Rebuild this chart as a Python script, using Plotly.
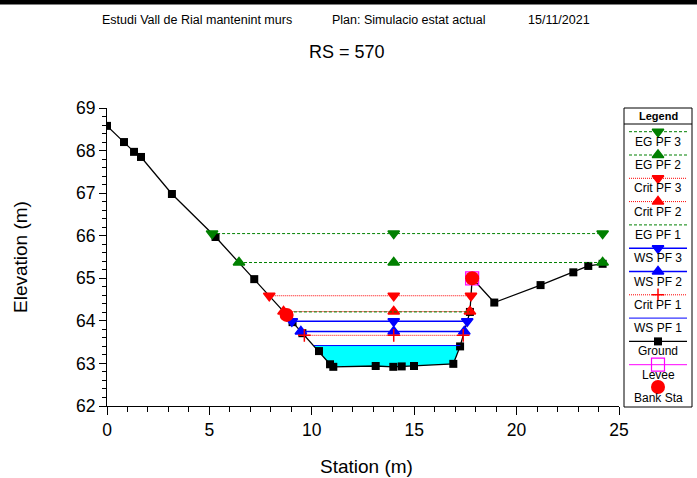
import numpy as np
import plotly.graph_objects as go

# ---- cross-section data -------------------------------------------------
ground_sta = [0.0, 0.83, 1.32, 1.66, 3.17, 5.3, 7.19, 8.77, 9.06, 9.54, 10.35,
              10.89, 11.05, 13.12, 13.98, 14.39, 14.99, 16.91, 17.24, 17.72,
              17.83, 18.91, 21.17, 22.77, 23.5, 24.2]
ground_elev = [68.58, 68.2, 67.97, 67.85, 66.98, 65.97, 64.98, 64.14, 63.97,
               63.71, 63.29, 62.98, 62.92, 62.94, 62.92, 62.93, 62.94, 62.99,
               63.40, 64.21, 65.0, 64.43, 64.84, 65.14, 65.29, 65.34]

bank_sta = [8.77, 17.83]
bank_elev = [64.14, 65.0]
levee_sta = [17.83]
levee_elev = [65.0]

profile_names = ["EG PF 3", "EG PF 2", "Crit PF 3", "Crit PF 2", "EG PF 1",
                 "WS PF 3", "WS PF 2", "Crit PF 1", "WS PF 1"]
profile_elev = [66.05, 65.37, 64.59, 64.22, 64.21, 63.99, 63.75, 63.66, 63.42]
channel_mid = 14.0

x_ticks = [0, 5, 10, 15, 20, 25]
y_ticks = [62, 63, 64, 65, 66, 67, 68, 69]

legend_rows = ["EG PF 3", "EG PF 2", "Crit PF 3", "Crit PF 2", "EG PF 1",
               "WS PF 3", "WS PF 2", "Crit PF 1", "WS PF 1", "Ground", "Levee",
               "Bank Sta"]

# ---- styles ---------------------------------------------------------------
GREEN = "#008000"
RED = "#ff0000"
BLUE = "#0000ff"
MAGENTA = "#ff00ff"
FONT = "Arial, 'Liberation Sans', sans-serif"
EG_DASH = "3px,2px"
CRIT_DASH = "1px,1px"

styles = {
    "EG PF 3": dict(color=GREEN, dash=EG_DASH, width=1, symbol="triangle-down", msize=10),
    "EG PF 2": dict(color=GREEN, dash=EG_DASH, width=1, symbol="triangle-up", msize=10),
    "Crit PF 3": dict(color=RED, dash=CRIT_DASH, width=1, symbol="triangle-down", msize=10),
    "Crit PF 2": dict(color=RED, dash=CRIT_DASH, width=1, symbol="triangle-up", msize=10),
    "EG PF 1": dict(color=GREEN, dash=EG_DASH, width=1, symbol=None, msize=0),
    "WS PF 3": dict(color=BLUE, dash="solid", width=1.5, symbol="triangle-down", msize=10),
    "WS PF 2": dict(color=BLUE, dash="solid", width=1.5, symbol="triangle-up", msize=10),
    "Crit PF 1": dict(color=RED, dash=CRIT_DASH, width=1, symbol="cross-thin", msize=9),
    "WS PF 1": dict(color=BLUE, dash="solid", width=1, symbol=None, msize=0),
}

gs = np.array(ground_sta)
ge = np.array(ground_elev)


def water_limits(elev):
    """Stations where a level meets the ground either side of the channel."""
    i = int(np.searchsorted(gs, channel_mid))
    left = gs[0]
    for k in range(i - 1, 0, -1):
        if ge[k - 1] >= elev > ge[k]:
            left = gs[k - 1] + (gs[k] - gs[k - 1]) * (ge[k - 1] - elev) / (ge[k - 1] - ge[k])
            break
    right = gs[-1]
    for k in range(i, len(gs)):
        if ge[k] >= elev > ge[k - 1]:
            right = gs[k - 1] + (gs[k] - gs[k - 1]) * (elev - ge[k - 1]) / (ge[k] - ge[k - 1])
            break
    return left, right


fig = go.Figure()

# water body under the lowest water surface
ws1 = profile_elev[profile_names.index("WS PF 1")]
l1, r1 = water_limits(ws1)
inside = (gs > l1) & (gs < r1)
fill_x = [l1] + list(gs[inside]) + [r1, l1]
fill_y = [ws1] + list(ge[inside]) + [ws1, ws1]
fig.add_trace(go.Scatter(x=fill_x, y=fill_y, mode="lines", fill="toself",
                         fillcolor="#00ffff", line=dict(width=0),
                         hoverinfo="skip", showlegend=False))

# ground
fig.add_trace(go.Scatter(x=ground_sta, y=ground_elev, mode="lines+markers",
                         line=dict(color="black", width=1.3),
                         marker=dict(symbol="square", size=8, color="black"),
                         showlegend=False))

# water surface, energy grade and critical lines
for name, elev in zip(profile_names, profile_elev):
    st = styles[name]
    left, right = water_limits(elev)
    xs = [left, channel_mid, right]
    ys = [elev, elev, elev]
    line = dict(color=st["color"], dash=st["dash"], width=st["width"])
    if st["symbol"]:
        fig.add_trace(go.Scatter(x=xs, y=ys, mode="lines+markers", line=line,
                                 marker=dict(symbol=st["symbol"], size=st["msize"],
                                             color=st["color"],
                                             line=dict(color=st["color"], width=1.5)),
                                 showlegend=False, cliponaxis=False))
    else:
        fig.add_trace(go.Scatter(x=xs, y=ys, mode="lines", line=line,
                                 showlegend=False))

# levee and bank stations
fig.add_trace(go.Scatter(x=levee_sta, y=levee_elev, mode="markers",
                         marker=dict(symbol="square-open", size=13, color=MAGENTA,
                                     line=dict(width=1.2)),
                         showlegend=False))
fig.add_trace(go.Scatter(x=bank_sta, y=bank_elev, mode="markers",
                         marker=dict(symbol="circle", size=14, color=RED),
                         showlegend=False, cliponaxis=False))

# ---- page geometry: paper spans the whole page ---------------------------
W, H = 697, 478
PLOT_L, PLOT_R, PLOT_T, PLOT_B = 107, 619, 108, 406
LEG_L, LEG_R, LEG_T, LEG_B = 624, 692, 108, 407
BAND_H = 4


def px(x):
    return x / W


def py(y):
    return (H - y) / H


# ---- legend panel (drawn in its own pixel-like axes) ---------------------
row0, row_step = 131.7, 23.3
sample_x0, sample_x1, sample_xc = 629, 687, 658

annotations = []
for i, name in enumerate(legend_rows):
    yl = row0 + i * row_step
    common = dict(xaxis="x2", yaxis="y2", showlegend=False, hoverinfo="skip",
                  cliponaxis=False)
    if name in styles:
        st = styles[name]
        fig.add_trace(go.Scatter(x=[sample_x0, sample_x1], y=[yl, yl], mode="lines",
                                 line=dict(color=st["color"], dash=st["dash"],
                                           width=st["width"]), **common))
        if st["symbol"]:
            fig.add_trace(go.Scatter(x=[sample_xc], y=[yl], mode="markers",
                                     marker=dict(symbol=st["symbol"], size=st["msize"],
                                                 color=st["color"],
                                                 line=dict(color=st["color"], width=1.5)),
                                     **common))
    elif name == "Ground":
        fig.add_trace(go.Scatter(x=[sample_x0, sample_x1], y=[yl, yl], mode="lines",
                                 line=dict(color="black", width=1.3), **common))
        fig.add_trace(go.Scatter(x=[sample_xc], y=[yl], mode="markers",
                                 marker=dict(symbol="square", size=8, color="black"),
                                 **common))
    elif name == "Levee":
        fig.add_trace(go.Scatter(x=[sample_x0, sample_x1], y=[yl, yl], mode="lines",
                                 line=dict(color=MAGENTA, width=1), **common))
        fig.add_trace(go.Scatter(x=[sample_xc], y=[yl], mode="markers",
                                 marker=dict(symbol="square-open", size=13, color=MAGENTA,
                                             line=dict(width=1.2)), **common))
    else:
        fig.add_trace(go.Scatter(x=[sample_xc], y=[yl - 1], mode="markers",
                                 marker=dict(symbol="circle", size=14, color=RED),
                                 **common))
    annotations.append(dict(x=sample_xc, y=yl + 10, xref="x2", yref="y2", text=name,
                            showarrow=False,
                            font=dict(family=FONT, size=12, color="black"),
                            xanchor="center", yanchor="middle"))

annotations.append(dict(x=sample_xc, y=116, xref="x2", yref="y2", text="<b>Legend</b>",
                        showarrow=False, font=dict(family=FONT, size=11, color="black"),
                        xanchor="center", yanchor="middle"))

head_font = dict(family=FONT, size=12.5, color="black")
title_font = dict(family=FONT, size=19, color="black")
annotations += [
    dict(x=px(100), y=py(20), xref="paper", yref="paper", xanchor="left", yanchor="middle",
         text="Estudi Vall de Rial mantenint murs", showarrow=False, font=head_font),
    dict(x=px(330), y=py(20), xref="paper", yref="paper", xanchor="left", yanchor="middle",
         text="Plan: Simulacio estat actual", showarrow=False, font=head_font),
    dict(x=px(526), y=py(20), xref="paper", yref="paper", xanchor="left", yanchor="middle",
         text="15/11/2021", showarrow=False, font=head_font),
    dict(x=px(347), y=py(52), xref="paper", yref="paper", xanchor="center", yanchor="middle",
         text="RS = 570", showarrow=False, font=dict(family=FONT, size=18, color="black")),
    dict(x=px(20), y=py(257), xref="paper", yref="paper", xanchor="center", yanchor="middle",
         text="Elevation (m)", textangle=-90, showarrow=False, font=title_font),
    dict(x=px(366), y=py(466), xref="paper", yref="paper", xanchor="center",
         yanchor="middle", text="Station (m)", showarrow=False, font=title_font),
]

shapes = [
    # black band along the top of the page
    dict(type="rect", xref="paper", yref="paper", x0=0, x1=1,
         y0=py(BAND_H), y1=1, fillcolor="black",
         line=dict(color="black", width=1), layer="above"),
    # legend frame and header divider
    dict(type="rect", xref="paper", yref="paper", x0=px(LEG_L), x1=px(LEG_R),
         y0=py(LEG_B), y1=py(LEG_T), line=dict(color="black", width=1),
         fillcolor="rgba(0,0,0,0)"),
    dict(type="line", xref="paper", yref="paper", x0=px(LEG_L), x1=px(LEG_R),
         y0=py(124), y1=py(124), line=dict(color="black", width=1)),
]

axis_font = dict(family=FONT, size=17.5, color="black")
fig.update_layout(
    template="none",
    width=W, height=H,
    margin=dict(l=0, r=0, t=0, b=0, autoexpand=False),
    paper_bgcolor="white", plot_bgcolor="white",
    showlegend=False,
    xaxis=dict(domain=[px(PLOT_L), px(PLOT_R)], range=[0, 25], tickvals=x_ticks,
               automargin=False, ticks="outside", ticklen=8, tickwidth=1,
               tickcolor="black", showline=True, linecolor="black", linewidth=1,
               showgrid=False, zeroline=False, tickfont=axis_font,
               minor=dict(dtick=1, ticks="outside", ticklen=5, tickcolor="black",
                          showgrid=False)),
    yaxis=dict(domain=[py(PLOT_B), py(PLOT_T)], range=[62, 69], tickvals=y_ticks,
               automargin=False, ticks="outside", ticklen=7, tickwidth=1,
               tickcolor="black", showline=True, linecolor="black", linewidth=1,
               showgrid=False, zeroline=False, tickfont=axis_font,
               minor=dict(dtick=0.2, ticks="outside", ticklen=4, tickcolor="black",
                          showgrid=False)),
    xaxis2=dict(domain=[px(LEG_L), px(LEG_R)], range=[LEG_L, LEG_R], anchor="y2",
                visible=False, automargin=False, fixedrange=True),
    yaxis2=dict(domain=[py(LEG_B), py(LEG_T)], range=[LEG_B, LEG_T], anchor="x2",
                visible=False, automargin=False, fixedrange=True),
    annotations=annotations,
    shapes=shapes,
)

fig.write_html("out.html", config={"displayModeBar": False})
